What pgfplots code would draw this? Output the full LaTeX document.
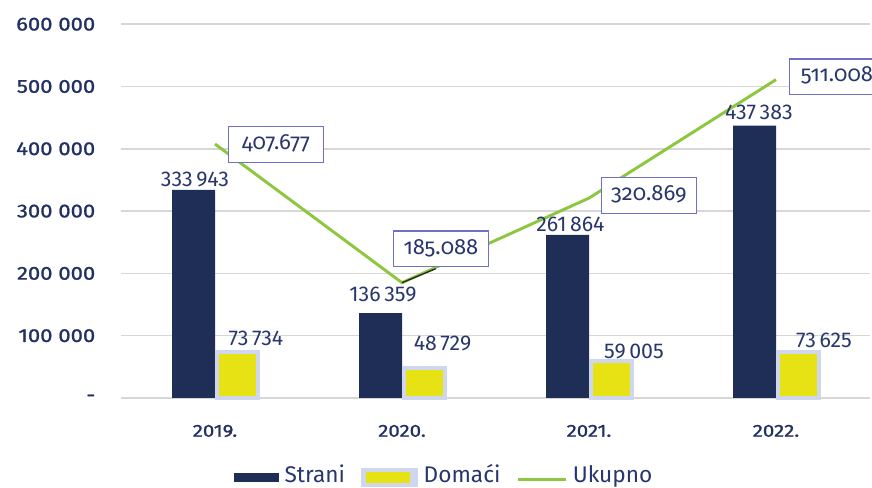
\documentclass[border=0pt]{standalone}
\usepackage{fontspec}
\setmainfont{Fira Sans}
\newfontfamily\tickfont{Fira Sans}[FakeStretch=1.18, FakeBold=1.2]
\newfontfamily\osf{Fira Sans}[Numbers=OldStyle]
\usepackage{pgfplots}
\usepackage{pgfplotstable}
\pgfplotsset{compat=1.18}

\definecolor{navy}{RGB}{31,46,86}
\definecolor{lemon}{RGB}{230,226,20}
\definecolor{glow}{RGB}{206,215,237}
\definecolor{ukgreen}{RGB}{141,198,63}
\definecolor{boxblue}{RGB}{112,112,196}
\definecolor{txt}{RGB}{40,54,108}
\definecolor{ticktxt}{RGB}{34,48,98}
\definecolor{gridgray}{RGB}{215,215,215}

% x, values and label offsets (pt, from the category centre / data point)
\pgfplotstableread{
x strani sdx sdy domaci ddx ddy ukupno udx udy
0 333943 -15.0 2.2 73734 30.75 3.0 407677 9.75 -0.4
1 136359 -14.25 8.2 48729 30.4 11.0 185088 -6.75 25.5
2 261864 -13.9 2.2 59005 33.75 0.0 320869 9.0 1.9
3 437383 -12.75 3.8 73625 36.0 1.5 511008 9.75 2.25
}\godine

\begin{document}
\begin{tikzpicture}
\useasboundingbox (-91.125pt,-67.5pt) rectangle (562.875pt,298.5pt);
\begin{axis}[
    at={(0,0)}, anchor=south west,
    scale only axis, width=561pt, height=280.35pt,
    xmin=-0.5, xmax=3.5, ymin=0, ymax=600000,
    xtick={0,1,2,3}, xticklabels={2019.,2020.,2021.,2022.},
    ytick={0,100000,200000,300000,400000,500000,600000},
    yticklabels={-,100 000,200 000,300 000,400 000,500 000,600 000},
    scaled y ticks=false,
    axis line style={draw=none}, major tick length=0pt,
    ymajorgrids, grid style={gridgray, line width=1.1pt},
    xticklabel style={anchor=north, inner sep=0pt, yshift=-20pt,
        font=\tickfont\fontsize{13}{15}\selectfont, text=ticktxt},
    yticklabel style={anchor=east, inner sep=0pt, xshift=-19.5pt,
        font=\tickfont\fontsize{14}{16}\selectfont, text=ticktxt},
    clip=false,
    legend columns=3,
    legend style={at={(axis description cs:0.430,-0.2080)}, anchor=center,
        draw=none, fill=none, text=txt,
        font=\fontsize{17}{19}\selectfont,
        nodes={inner sep=0pt},
        /tikz/every odd column/.append style={column sep=4pt},
        /tikz/every even column/.append style={column sep=12pt},
        /tikz/column 3/.append style={column sep=0pt}},
]
\addplot[ybar, bar width=32.25pt, bar shift=-16.1pt, fill=navy, draw=none,
    nodes near coords, point meta=y,
    visualization depends on={\thisrow{sdx}\as\sdx},
    visualization depends on={\thisrow{sdy}\as\sdy},
    every node near coord/.append style={anchor=south, inner sep=0pt,
        xshift=\sdx pt, yshift=\sdy pt, text=txt,
        font=\fontsize{16}{18}\selectfont,
        /pgf/number format/.cd, fixed, precision=0, 1000 sep={\,}, assume math mode=true},
    legend image code/.code={\fill[navy] (0pt,-5.5pt) rectangle (34pt,1.7pt);}
] table[x=x, y=strani] {\godine};
\addlegendentry{Strani}

\addplot[ybar, bar width=30.75pt, bar shift=16.9pt, fill=lemon, draw=glow, line width=3pt,
    nodes near coords, point meta=y,
    visualization depends on={\thisrow{ddx}\as\ddx},
    visualization depends on={\thisrow{ddy}\as\ddy},
    every node near coord/.append style={anchor=south, inner sep=0pt,
        xshift=\ddx pt, yshift=\ddy pt, text=txt,
        font=\fontsize{16}{18}\selectfont,
        /pgf/number format/.cd, fixed, precision=0, 1000 sep={\,}, assume math mode=true},
    legend image code/.code={\fill[glow] (-2pt,-7.3pt) rectangle (38pt,4pt);
        \fill[lemon] (2pt,-4.3pt) rectangle (32pt,1pt);}
] table[x=x, y=domaci] {\godine};
\addlegendentry{Domaći}

\addplot[ukgreen, line width=2.2pt, mark=none,
    nodes near coords, point meta=y,
    visualization depends on={\thisrow{udx}\as\udx},
    visualization depends on={\thisrow{udy}\as\udy},
    every node near coord/.append style={anchor=west, draw=boxblue, line width=0.9pt,
        fill=white, inner sep=0pt, minimum width=71pt, minimum height=26.5pt,
        text height=11pt, text depth=3pt,
        xshift=\udx pt, yshift=\udy pt, text=txt,
        font=\osf\fontsize{16.5}{18}\selectfont,
        /pgf/number format/.cd, fixed, precision=0, 1000 sep={.}, assume math mode=true},
    legend image code/.code={\draw[ukgreen, line width=2.2pt] (0pt,-3.5pt) -- (36pt,-3.5pt);}
] table[x=x, y=ukupno] {\godine};
\addlegendentry{Ukupno}

% leader line of the 2020 label
\draw[black!85, line width=1pt] (axis cs:1,185088) -- (axis cs:1.18,207500);
\end{axis}
\end{tikzpicture}
\end{document}
